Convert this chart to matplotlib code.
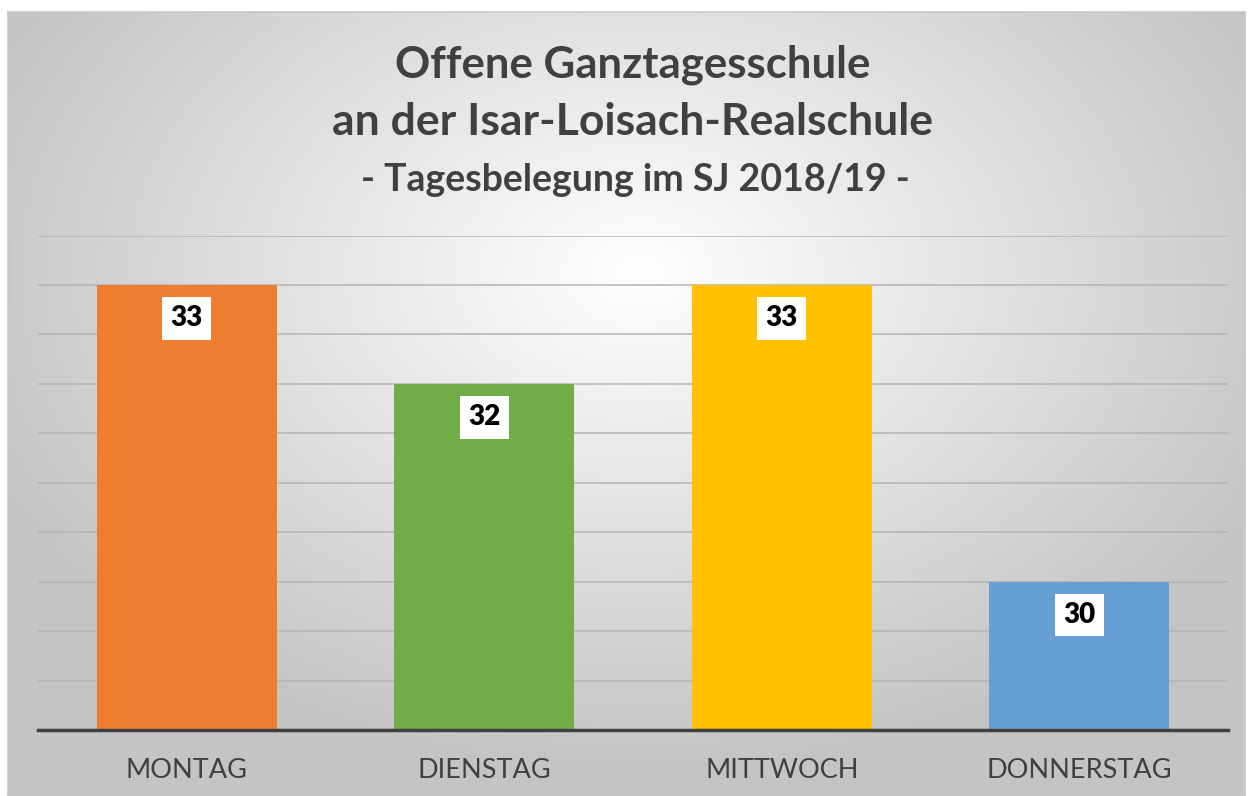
import matplotlib.pyplot as plt
import numpy as np

plt.rcParams['font.family'] = ['Lato', 'DejaVu Sans']

# data
days = ["MONTAG", "DIENSTAG", "MITTWOCH", "DONNERSTAG"]
belegung = [33, 32, 33, 30]
farben = ["#ED7D31", "#70AD47", "#FFC000", "#5B9BD5"]
alphas = [1.0, 1.0, 1.0, 0.9]

W, H = 1249, 796
fig = plt.figure(figsize=(W / 100, H / 100), dpi=100)
fig.patch.set_facecolor("white")

# radial gradient background for the chart area
bg = fig.add_axes([8 / W, 0, (1245 - 8) / W, (H - 12) / H])
yy, xx = np.mgrid[0:H - 12, 0:1245 - 8]
d = np.sqrt(((xx - 630) / 800.0) ** 2 + ((yy - 260) / 560.0) ** 2)
g = np.clip(1.0 - 0.26 * d, 0.77, 1.0)
bg.imshow(np.dstack([g, g, g]), aspect="auto", extent=[0, 1, 0, 1])
bg.set_xticks([])
bg.set_yticks([])
for s in bg.spines.values():
    s.set_color("#c8c8c8")
    s.set_linewidth(1.2)

# plot area
x0, x1 = 38, 1228
ytop, ybot = 235.5, 730
ax = fig.add_axes([x0 / W, 1 - ybot / H, (x1 - x0) / W, (ybot - ytop) / H])
ax.patch.set_alpha(0)

x = np.arange(len(days))
bars = ax.bar(x, belegung, width=0.605, bottom=0, color=farben, zorder=3)
for b, a in zip(bars, alphas):
    b.set_alpha(a)
ax.set_xlim(-0.5, 3.5)
ax.set_ylim(28.5, 33.5)
ax.set_yticks(np.arange(28.5, 33.51, 0.5))
ax.yaxis.grid(True, color="#b4b4b4", linewidth=1.1, zorder=1)
ax.set_axisbelow(True)
ax.tick_params(axis="y", left=False, labelleft=False)
ax.tick_params(axis="x", bottom=False, labelsize=19.5, labelcolor="#404040", pad=17)
ax.set_xticks(x)
ax.set_xticklabels(days)
for s in ["top", "right", "left"]:
    ax.spines[s].set_visible(False)
ax.spines["bottom"].set_color("#404040")
ax.spines["bottom"].set_linewidth(2.5)
ax.spines["bottom"].set_zorder(5)

for xi, v in zip(x, belegung):
    ax.annotate(str(v), (xi, v), xytext=(0, -24), textcoords="offset points",
                ha="center", va="center", fontsize=20, fontweight="heavy", color="black",
                bbox=dict(boxstyle="square,pad=0.3", fc="white", ec="none"), zorder=6)

fig.text(633 / W, 1 - 65 / H, "Offene Ganztagesschule", ha="center", va="center",
         fontsize=31.5, fontweight="bold", color="#404040")
fig.text(633 / W, 1 - 122 / H, "an der Isar-Loisach-Realschule", ha="center", va="center",
         fontsize=32, fontweight="bold", color="#404040")
fig.text(635 / W, 1 - 180 / H, "- Tagesbelegung im SJ 2018/19 -", ha="center", va="center",
         fontsize=27, fontweight="bold", color="#404040")

fig.savefig("out.png", dpi=100)
